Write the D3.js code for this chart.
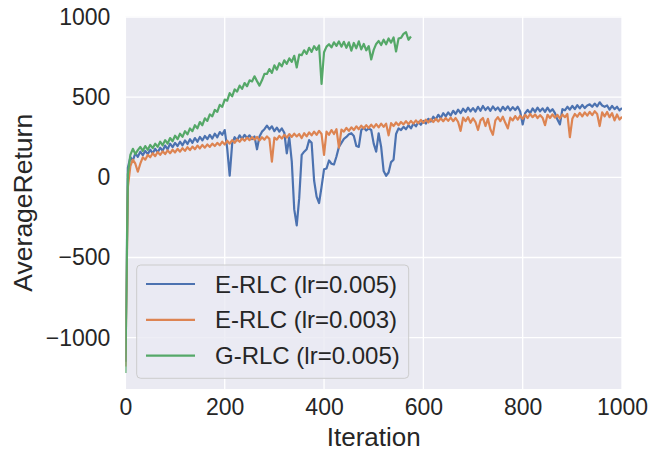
<!DOCTYPE html>
<html><head><meta charset="utf-8">
<script src="https://cdn.jsdelivr.net/npm/d3@7"></script>
<style>body{margin:0;background:#fff}svg{display:block}</style>
</head><body>
<svg id="c" width="649" height="454"></svg>
<script>
const step = 5;
const xTicks = [0, 200, 400, 600, 800, 1000];
const yTicks = [-1000, -500, 0, 500, 1000];
const seriesNames = ["E-RLC (lr=0.005)", "E-RLC (lr=0.003)", "G-RLC (lr=0.005)"];
const seriesColors = ["#4c72b0", "#dd8452", "#55a868"];

const blueValues = [
-1150,60,125,105,150,128,160,138,165,145,172,150,178,155,185,165,198,175,210,188,
215,195,222,200,230,208,238,215,245,222,252,230,258,238,265,242,272,250,282,265,
295,180,10,210,250,232,262,240,265,245,262,238,255,175,255,285,300,322,300,318,
288,310,285,305,278,150,250,100,-200,-300,-130,140,160,175,232,215,-20,-120,-160,-60,
50,55,105,85,80,130,190,215,240,252,268,275,258,195,190,295,310,292,305,295,
210,160,275,190,40,10,30,95,110,270,305,295,315,300,325,305,335,318,345,328,
352,335,365,348,378,360,390,370,400,380,405,385,415,395,422,400,428,408,435,412,
432,410,440,415,445,420,438,415,442,420,436,412,440,420,442,418,438,420,440,410,
330,400,420,400,430,408,435,412,430,408,435,410,425,400,360,330,425,418,440,422,
445,425,450,430,452,432,448,455,440,460,442,468,448,440,448,422,445,425,440,418,432];

const orangeValues = [
-1180,-60,70,110,85,35,85,125,110,140,125,150,132,158,140,162,145,168,150,172,
155,178,160,182,165,188,170,192,175,198,180,202,185,205,190,210,195,215,200,222,
205,228,210,232,215,236,222,242,228,248,232,250,235,252,230,250,235,255,240,98,
248,235,258,242,265,248,270,252,272,255,270,245,275,255,280,262,285,265,290,270,
140,285,265,295,270,300,185,298,285,308,290,312,295,318,300,322,305,325,308,328,
310,332,312,335,315,335,262,338,320,342,325,345,330,350,332,352,335,355,338,358,
340,360,342,362,345,365,348,368,350,370,352,372,350,370,345,290,372,350,375,340,
368,345,295,355,370,320,365,300,265,355,375,350,378,340,305,372,355,382,360,385,
365,390,370,395,375,392,370,388,372,325,390,370,392,372,390,368,392,375,395,250,
365,395,378,402,380,405,385,408,388,412,395,320,405,380,408,375,400,355,392,360,378];

const greenValues = [
-1220,20,140,178,145,170,190,165,195,172,202,182,210,190,222,200,232,210,245,225,
260,238,272,252,288,268,305,288,325,305,345,325,368,352,392,380,420,408,452,440,
485,478,525,505,548,535,572,552,588,568,605,598,630,600,572,605,645,645,675,652,
698,672,712,692,730,708,742,720,758,685,765,762,792,770,808,782,818,795,822,583,
780,815,830,810,842,820,848,815,845,808,842,790,838,805,848,798,832,792,818,735,
795,832,850,825,858,830,866,840,872,785,865,870,895,905,858,878];

const allSeries = [blueValues, orangeValues, greenValues];

const svg = d3.select("#c");
const L = 125.4, R = 622, T = 16.5, B = 389;
const x = d3.scaleLinear().domain([0, 1000]).range([L, R]);
const y = d3.scaleLinear().domain([-1320, 1003]).range([B, T]);
const font = "'Liberation Sans', Arial, sans-serif";
const txt = "#262626";

svg.append("rect").attr("x", L).attr("y", T).attr("width", R - L).attr("height", B - T).attr("fill", "#eaeaf2");

const gx = svg.append("g").attr("transform", `translate(0,${B})`)
  .call(d3.axisBottom(x).tickValues(xTicks).tickSize(0).tickPadding(10).tickFormat(d3.format("d")));
gx.select(".domain").remove();
gx.selectAll("text").attr("font-family", font).attr("font-size", 23).attr("fill", txt);

const gy = svg.append("g").attr("transform", `translate(${L},0)`)
  .call(d3.axisLeft(y).tickValues(yTicks).tickSize(0).tickPadding(15).tickFormat(d3.format("d")));
gy.select(".domain").remove();
gy.selectAll("text").attr("font-family", font).attr("font-size", 23).attr("fill", txt);

const grid = svg.append("g");
grid.selectAll("line.vx").data(xTicks).join("line")
  .attr("x1", d => x(d)).attr("x2", d => x(d)).attr("y1", T).attr("y2", B)
  .attr("stroke", "#fff").attr("stroke-width", 1.3);
grid.selectAll("line.hy").data(yTicks).join("line")
  .attr("x1", L).attr("x2", R).attr("y1", d => y(d)).attr("y2", d => y(d))
  .attr("stroke", "#fff").attr("stroke-width", 1.3);

svg.append("clipPath").attr("id", "pc").append("rect")
  .attr("x", L).attr("y", T).attr("width", R - L).attr("height", B - T);

const line = d3.line().x((d, i) => x(i * step)).y(d => y(d));
const lines = svg.append("g").attr("clip-path", "url(#pc)");
allSeries.forEach((s, k) => {
  lines.append("path").datum(s).attr("d", line).attr("fill", "none")
    .attr("stroke", seriesColors[k]).attr("stroke-width", 2.2).attr("stroke-linejoin", "round");
});

svg.append("text").attr("x", (L + R) / 2).attr("y", 446).attr("text-anchor", "middle")
  .attr("font-family", font).attr("font-size", 26).attr("fill", txt).text("Iteration");
svg.append("text").attr("transform", `translate(32,${(T + B) / 2}) rotate(-90)`).attr("text-anchor", "middle")
  .attr("font-family", font).attr("font-size", 26.5).attr("fill", txt).text("AverageReturn");

const lg = svg.append("g");
lg.append("rect").attr("x", 136.7).attr("y", 265).attr("width", 272).attr("height", 113.3).attr("rx", 4)
  .attr("fill", "#eaeaf2").attr("fill-opacity", 0.8).attr("stroke", "#cccccc").attr("stroke-width", 1);
seriesNames.forEach((n, k) => {
  const cy = 284 + k * 35.8;
  lg.append("line").attr("x1", 146).attr("x2", 195).attr("y1", cy).attr("y2", cy)
    .attr("stroke", seriesColors[k]).attr("stroke-width", 2.2);
  lg.append("text").attr("x", 215).attr("y", cy).attr("dy", "0.36em")
    .attr("font-family", font).attr("font-size", 24).attr("fill", txt).text(n);
});
</script>
</body></html>
